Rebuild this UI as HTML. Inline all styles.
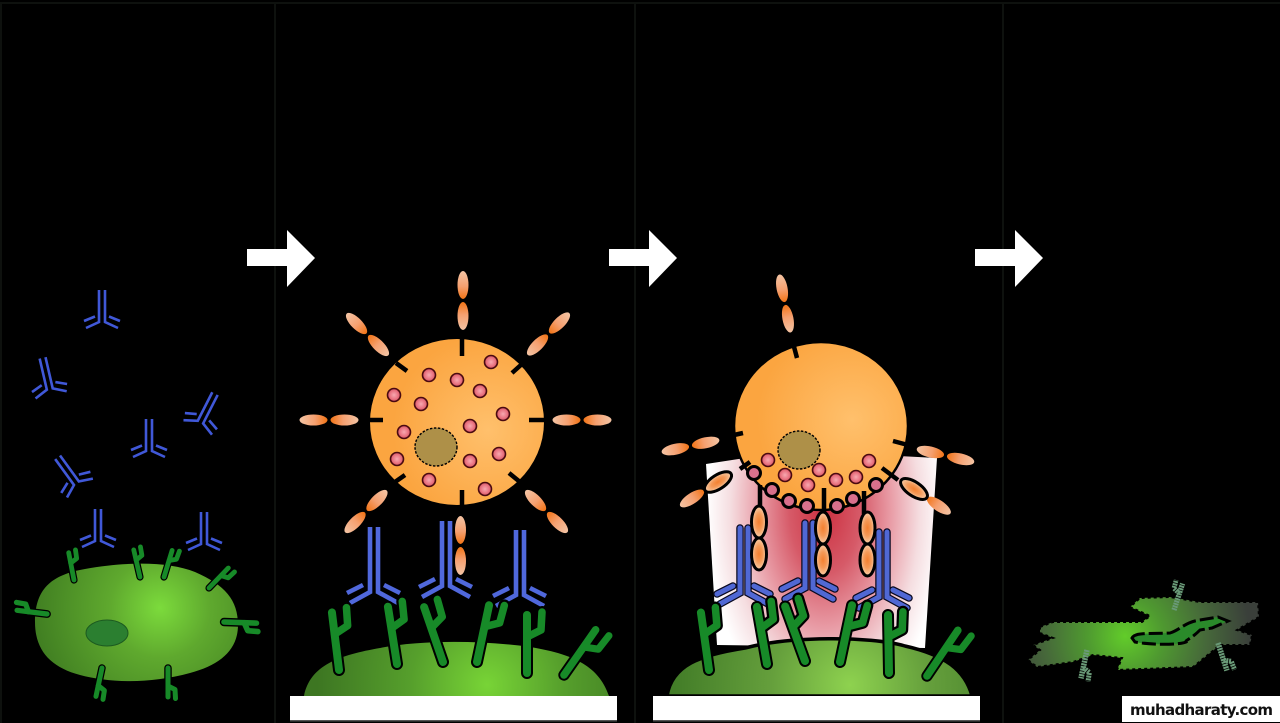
<!DOCTYPE html>
<html>
<head>
<meta charset="utf-8">
<style>
html,body{margin:0;padding:0;background:#000;}
svg{display:block;}
</style>
</head>
<body>
<svg width="1280" height="723" viewBox="0 0 1280 723" xmlns="http://www.w3.org/2000/svg">
<defs>
  <radialGradient id="c1" gradientUnits="userSpaceOnUse" cx="160" cy="608" r="125"><stop offset="0" stop-color="#7cdb3c"/><stop offset=".4" stop-color="#5fa92e"/><stop offset="1" stop-color="#417f22"/></radialGradient>
  <radialGradient id="c2" gradientUnits="userSpaceOnUse" cx="487" cy="685" r="170"><stop offset="0" stop-color="#78d436"/><stop offset=".45" stop-color="#569f2c"/><stop offset="1" stop-color="#3d7622"/></radialGradient>
  <radialGradient id="c3" gradientUnits="userSpaceOnUse" cx="850" cy="685" r="175"><stop offset="0" stop-color="#8ed24f"/><stop offset=".45" stop-color="#659f3c"/><stop offset="1" stop-color="#437d28"/></radialGradient>
  <radialGradient id="c4" gradientUnits="userSpaceOnUse" cx="1125" cy="636" r="125"><stop offset="0" stop-color="#62cc2a"/><stop offset=".3" stop-color="#4f9a30"/><stop offset=".65" stop-color="#46683a"/><stop offset="1" stop-color="#3a3f3a"/></radialGradient>
  <radialGradient id="or1" gradientUnits="userSpaceOnUse" cx="488" cy="430" r="95"><stop offset="0" stop-color="#ffc06c"/><stop offset="1" stop-color="#fba540"/></radialGradient>
  <radialGradient id="or2" gradientUnits="userSpaceOnUse" cx="852" cy="420" r="95"><stop offset="0" stop-color="#ffc06c"/><stop offset="1" stop-color="#fba540"/></radialGradient>
  <radialGradient id="pink"><stop offset="0" stop-color="#f8a8b0"/><stop offset=".7" stop-color="#e8707e"/><stop offset="1" stop-color="#c84a5a"/></radialGradient>
  <radialGradient id="glow" gradientUnits="userSpaceOnUse" cx="825" cy="0" r="118" gradientTransform="translate(0,510) scale(1,1.8)"><stop offset="0" stop-color="#cc3040"/><stop offset=".3" stop-color="#d65a68"/><stop offset=".55" stop-color="#e89aa4"/><stop offset=".8" stop-color="#f5dde0"/><stop offset="1" stop-color="#ffffff"/></radialGradient>
  <linearGradient id="lo" x1="0" y1="0" x2="0" y2="1"><stop offset="0" stop-color="#f4c4a4"/><stop offset=".55" stop-color="#f5a070"/><stop offset="1" stop-color="#f27416"/></linearGradient>
  <linearGradient id="li" x1="0" y1="0" x2="0" y2="1"><stop offset="0" stop-color="#f27416"/><stop offset=".45" stop-color="#f5a070"/><stop offset="1" stop-color="#f4c4a4"/></linearGradient>
  <radialGradient id="bo"><stop offset="0" stop-color="#f48030"/><stop offset=".5" stop-color="#f59a58"/><stop offset="1" stop-color="#fad0ac"/></radialGradient>

  <g id="pair">
    <ellipse cx="0" cy="-15.5" rx="5.5" ry="14" fill="url(#lo)"/>
    <ellipse cx="0" cy="15.5" rx="5.5" ry="14" fill="url(#li)"/>
  </g>
  <g id="ab-s" fill="none" stroke="#4058d8" stroke-width="2.6">
    <path d="M-3,-33V-1L-16,5M3,-33V-1L16,5M-18,-2L-7,-6.5M7,-6.5L18,-2"/>
  </g>
  <g id="ab-b" fill="none" stroke="#5068dc" stroke-width="4.6">
    <path d="M-4,-65V0L-24,11M4,-65V0L24,11M-27,1L-11,-7M10,-7L26,1"/>
  </g>
  <g id="ab-o" fill="none">
    <path d="M-4,-65V0L-24,11M4,-65V0L24,11M-27,1L-11,-7M10,-7L26,1" stroke="#0a0a20" stroke-width="7.5" stroke-linecap="round"/>
    <path d="M-4,-65V0L-24,11M4,-65V0L24,11M-27,1L-11,-7M10,-7L26,1" stroke="#5068d4" stroke-width="5" stroke-linecap="round"/>
  </g>
  <g id="rc" fill="none" stroke-linecap="round" stroke-linejoin="round">
    <path d="M0,0V-58M0,-36L14,-43L15,-61" stroke="#000" stroke-width="12"/>
    <path d="M0,0V-58" stroke="#178a28" stroke-width="8"/>
    <path d="M0,-36L14,-43L15,-61" stroke="#178a28" stroke-width="7.5"/>
  </g>
  <g id="rs" fill="none" stroke-linecap="round" stroke-linejoin="round">
    <path d="M0,0V-58M0,-36L14,-43L15,-61" stroke="#000" stroke-width="15"/>
    <path d="M0,0V-58" stroke="#178a28" stroke-width="10"/>
    <path d="M0,-36L14,-43L15,-61" stroke="#178a28" stroke-width="10"/>
  </g>
  <g id="rg" fill="none">
    <path d="M0,0V-58" stroke="#6a9a78" stroke-width="11" stroke-dasharray="4 1.5"/>
    <path d="M0,-36L14,-43L15,-61" stroke="#6a9a78" stroke-width="10" stroke-dasharray="4 1.5"/>
  </g>
  <g id="arrow"><path d="M247,249H287V230L315,258L287,287V266H247Z" fill="#fff"/></g>
  <g id="vs"><circle r="6.5" fill="url(#pink)" stroke="#4a0a10" stroke-width="1.6"/></g>
  <g id="bp">
    <ellipse cx="0" cy="-16" rx="7.5" ry="16" fill="url(#bo)" stroke="#000" stroke-width="3"/>
    <ellipse cx="0" cy="16" rx="7.5" ry="16" fill="url(#bo)" stroke="#000" stroke-width="3"/>
  </g>
</defs>

<rect width="1280" height="723" fill="#000"/>

<!-- dividers -->
<g stroke="#0e110e" stroke-width="2" fill="none">
  <path d="M0,3H1280M275,3V723M635,3V723M1003,3V723M1,3V723"/>
</g>

<!-- arrows -->
<use href="#arrow"/>
<use href="#arrow" x="362"/>
<use href="#arrow" x="728"/>

<!-- PANEL 1 -->
<g>
  <use href="#ab-s" transform="translate(102,323)"/>
  <use href="#ab-s" transform="translate(50,390) rotate(-13)"/>
  <use href="#ab-s" transform="translate(149,452)"/>
  <use href="#ab-s" transform="translate(200,423) rotate(27)"/>
  <use href="#ab-s" transform="translate(77,484) rotate(-36)"/>
  <use href="#ab-s" transform="translate(98,542)"/>
  <use href="#ab-s" transform="translate(204,545)"/>
  <path d="M35,622C35,590 50,575 85,569C130,561 170,562 195,572C225,585 238,600 238,625C238,650 220,665 190,673C150,684 110,683 80,675C50,667 35,650 35,622Z" fill="url(#c1)"/>
  <ellipse cx="107" cy="633" rx="21" ry="13" fill="#2b7f30" stroke="#1c5a20" stroke-width="1"/>
  <use href="#rs" transform="translate(74,580) rotate(-11) scale(.48)"/>
  <use href="#rs" transform="translate(140,577) rotate(-13) scale(.48)"/>
  <use href="#rs" transform="translate(164,577) rotate(17) scale(.48)"/>
  <use href="#rs" transform="translate(209,588) rotate(44) scale(.48)"/>
  <use href="#rs" transform="translate(47,614) rotate(-83) scale(.52)"/>
  <use href="#rs" transform="translate(224,622) rotate(92) scale(.56)"/>
  <use href="#rs" transform="translate(102,668) rotate(192) scale(-.5,.5)"/>
  <use href="#rs" transform="translate(168,668) rotate(180) scale(-.5,.5)"/>
</g>

<!-- PANEL 2 -->
<g>
  <ellipse cx="457" cy="422" rx="87" ry="83" fill="url(#or1)"/>
  <g stroke="#000" stroke-width="4.5" fill="none">
    <path d="M462,339V356M512,373L522,364M529,420H544M509,473L520,482M462,490V506M405,475L395,482M370,420H383M407,371L396,363"/>
  </g>
  <g>
    <use href="#vs" x="491" y="362"/><use href="#vs" x="429" y="375"/><use href="#vs" x="457" y="380"/>
    <use href="#vs" x="480" y="391"/><use href="#vs" x="394" y="395"/><use href="#vs" x="421" y="404"/>
    <use href="#vs" x="503" y="414"/><use href="#vs" x="404" y="432"/><use href="#vs" x="470" y="426"/>
    <use href="#vs" x="397" y="459"/><use href="#vs" x="499" y="454"/><use href="#vs" x="470" y="461"/>
    <use href="#vs" x="429" y="480"/><use href="#vs" x="485" y="489"/>
  </g>
  <ellipse cx="436" cy="447" rx="21" ry="19" fill="#ae9048" stroke="#000" stroke-width="1.4" stroke-dasharray="2.5 1.5"/>
  <use href="#pair" transform="translate(463,300.5)"/>
  <use href="#pair" transform="translate(548.5,334) rotate(45)"/>
  <use href="#pair" transform="translate(582,420) rotate(90)"/>
  <use href="#pair" transform="translate(546.5,511.5) rotate(135)"/>
  <use href="#pair" transform="translate(366,511.5) rotate(225)"/>
  <use href="#pair" transform="translate(329,420) rotate(270)"/>
  <use href="#pair" transform="translate(367.5,334.5) rotate(315)"/>

  <path d="M304,696C310,665 340,655 380,648C420,640 480,640 530,647C580,655 600,670 609,696Z" fill="url(#c2)"/>
  <use href="#ab-b" transform="translate(374,592)"/>
  <use href="#ab-b" transform="translate(446,586)"/>
  <use href="#ab-b" transform="translate(520,595)"/>
  <use href="#pair" transform="translate(460.5,545.5) rotate(180)"/>
  <use href="#rc" transform="translate(339,670) rotate(-7)"/>
  <use href="#rc" transform="translate(397,664) rotate(-9)"/>
  <use href="#rc" transform="translate(443,662) rotate(-19)"/>
  <use href="#rc" transform="translate(477,662) rotate(12)"/>
  <use href="#rc" transform="translate(527,673)"/>
  <use href="#rc" transform="translate(564,675) rotate(35) scale(.95)"/>
  <rect x="290" y="696" width="327" height="24" fill="#fff"/>
  <rect x="290" y="720" width="327" height="1.5" fill="#555"/>
</g>

<!-- PANEL 3 -->
<g>
  <path d="M706,464L765,455L880,455L937,458L925,648L717,645Z" fill="url(#glow)"/>
  <ellipse cx="821" cy="426" rx="87" ry="84" fill="url(#or2)" stroke="#000" stroke-width="2.5"/>
  <g stroke="#000" stroke-width="4.5" fill="none">
    <path d="M793,343L797,358M734,435L743,433M893,441L908,445M750,462L740,469M882,468L898,480"/>
    <path d="M760,485V508M824,488V513M864,491V514"/>
  </g>
  <g fill="#d8708c" stroke="#000" stroke-width="3">
    <circle cx="754" cy="473" r="6.5"/><circle cx="772" cy="490" r="6.5"/><circle cx="789" cy="501" r="6.5"/>
    <circle cx="807" cy="506" r="6.5"/><circle cx="837" cy="506" r="6.5"/><circle cx="853" cy="499" r="6.5"/>
    <circle cx="876" cy="485" r="6.5"/>
  </g>
  <g>
    <use href="#vs" x="768" y="460"/><use href="#vs" x="785" y="475"/><use href="#vs" x="819" y="470"/>
    <use href="#vs" x="808" y="485"/><use href="#vs" x="836" y="480"/><use href="#vs" x="856" y="477"/>
    <use href="#vs" x="869" y="461"/>
  </g>
  <ellipse cx="799" cy="450" rx="21" ry="19" fill="#ae9048" stroke="#000" stroke-width="1.4" stroke-dasharray="2.5 1.5"/>

  <use href="#pair" transform="translate(785,303.5) rotate(-11)"/>
  <use href="#pair" transform="translate(690.5,446) rotate(258)"/>
  <use href="#pair" transform="translate(945.5,455.5) rotate(103)"/>
  <use href="#pair" transform="translate(705,490) rotate(237)"/>
  <use href="#pair" transform="translate(926,497) rotate(124)"/>
  <ellipse cx="0" cy="0" rx="7" ry="15.5" transform="translate(718,482) rotate(57)" fill="url(#bo)" stroke="#000" stroke-width="3"/>
  <ellipse cx="0" cy="0" rx="7" ry="15.5" transform="translate(914,489) rotate(-56)" fill="url(#bo)" stroke="#000" stroke-width="3"/>

  <path d="M667,696C672,665 700,655 745,648C790,636 870,636 905,646C945,655 965,670 972,696Z" fill="url(#c3)" stroke="#000" stroke-width="3.5"/>

  <use href="#ab-o" transform="translate(744,593)"/>
  <use href="#ab-o" transform="translate(809,588)"/>
  <use href="#ab-o" transform="translate(883,597)"/>
  <use href="#bp" transform="translate(759,538)"/>
  <use href="#bp" transform="translate(823,544)"/>
  <use href="#bp" transform="translate(867.5,544)"/>

  <use href="#rc" transform="translate(709,670) rotate(-8)"/>
  <use href="#rc" transform="translate(767,664) rotate(-10)"/>
  <use href="#rc" transform="translate(805,661) rotate(-20)"/>
  <use href="#rc" transform="translate(840,662) rotate(12)"/>
  <use href="#rc" transform="translate(889,673) rotate(-1)"/>
  <use href="#rc" transform="translate(927,676) rotate(34) scale(.95)"/>
  <rect x="653" y="696" width="327" height="24" fill="#fff"/>
  <rect x="653" y="720" width="327" height="1.5" fill="#555"/>
</g>

<!-- PANEL 4 -->
<g>
  <path d="M1040,627L1053,622L1142,622L1150,616L1130,607L1140,598L1170,597L1200,602L1258,602L1259,617L1237,630L1252,635L1250,645L1220,645L1193,667L1117,670L1122,658L1093,655L1073,662L1037,667L1028,660L1040,650L1033,645L1053,638L1040,633Z" fill="url(#c4)" stroke="#000" stroke-width="2" stroke-dasharray="3 3"/>
  <path d="M1132,638C1135,632 1150,634 1170,633C1180,630 1185,622 1200,620L1218,617L1228,621L1212,628L1200,630C1190,640 1185,640 1186,642C1180,645 1150,645 1135,642Z" fill="#2a8a2a" stroke="#000" stroke-width="3" stroke-dasharray="14 4"/>
  <use href="#rg" transform="translate(1174,610) rotate(18) scale(-.48,.48)"/>
  <use href="#rg" transform="translate(1087,650) rotate(192) scale(-.5,.5)"/>
  <use href="#rg" transform="translate(1218,643) rotate(162) scale(-.5,.5)"/>
</g>

<!-- watermark -->
<rect x="1122" y="696" width="158" height="26" fill="#fff"/>
<text x="1130" y="715" font-family="'DejaVu Sans','Liberation Sans',sans-serif" font-weight="bold" font-size="15" fill="#111" textLength="143" lengthAdjust="spacing">muhadharaty.com</text>
</svg>
</body>
</html>
